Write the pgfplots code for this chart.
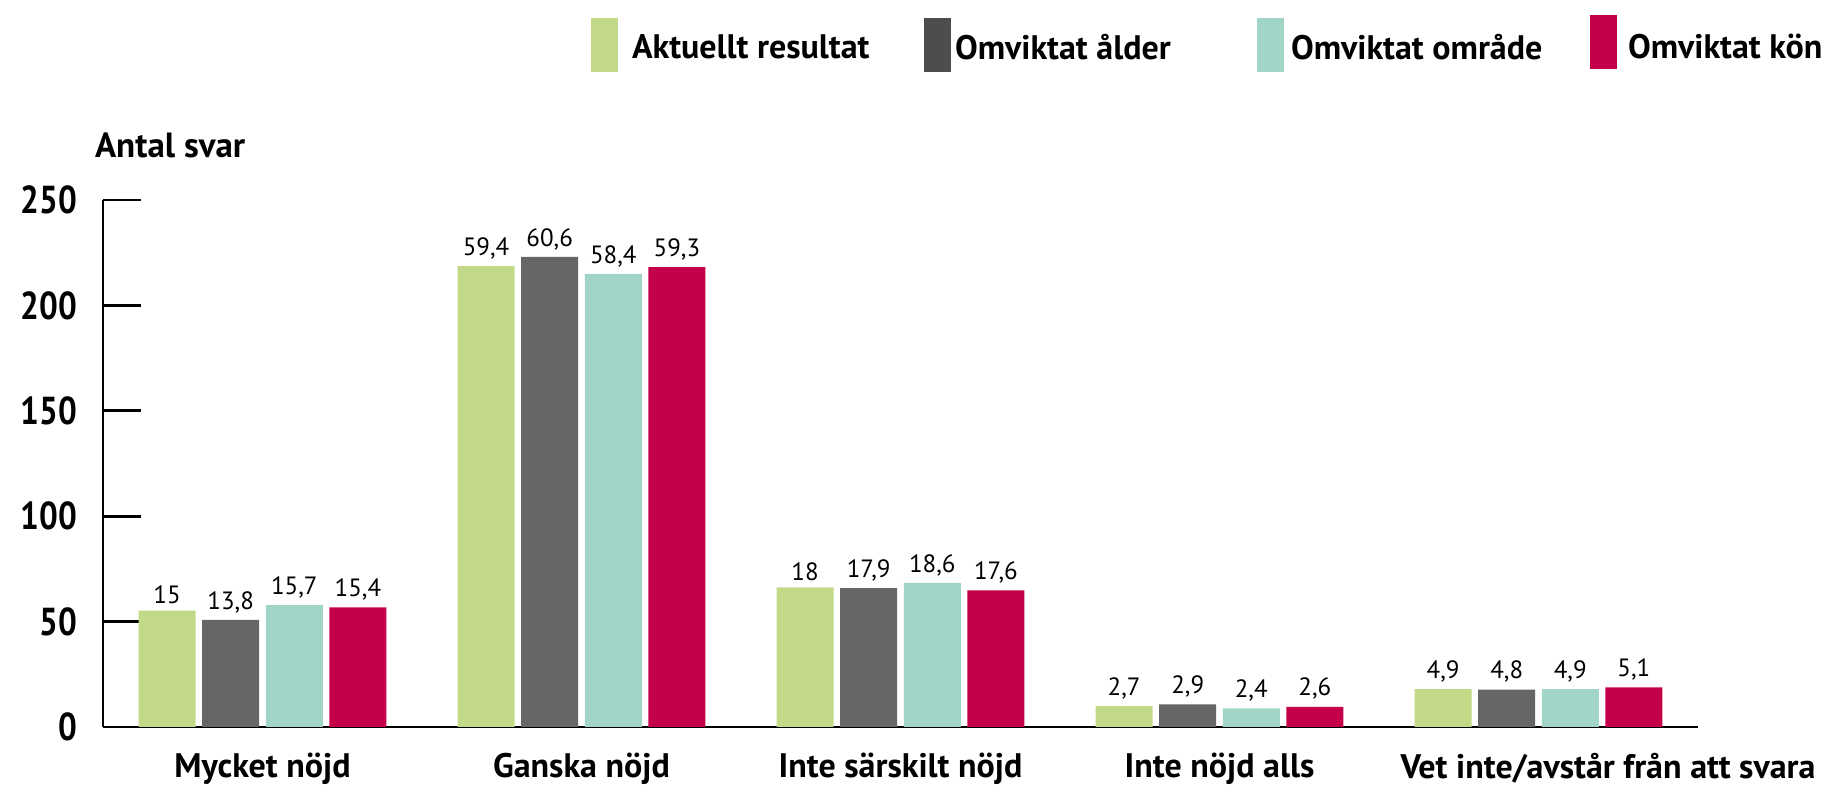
\documentclass[border=0pt]{standalone}
\usepackage{pgfplots}
\pgfplotsset{compat=1.18}
\usepackage{pgfplotstable}
\usepackage{fontspec}
\setmainfont{PT Sans}
\newfontfamily\narrowfont{PT Sans}[FakeStretch=0.85]
\definecolor{cgreen}{HTML}{C2DA88}
\definecolor{cdark}{HTML}{666666}
\definecolor{cdarkleg}{HTML}{4D4D4D}
\definecolor{cteal}{HTML}{A0D5C8}
\definecolor{cred}{HTML}{C4004A}
\pgfplotstableread{
x g gl d dl t tl r rl
0 55.2 15 50.8 13,8 57.8 15,7 56.7 15,4
1 218.6 59,4 223.0 60,6 214.9 58,4 218.2 59,3
2 66.2 18 65.9 17,9 68.4 18,6 64.8 17,6
3 9.9 2,7 10.7 2,9 8.8 2,4 9.6 2,6
4 18.0 4,9 17.7 4,8 18.0 4,9 18.8 5,1
}\data
\begin{document}
\begin{tikzpicture}
\begin{axis}[
  name=ax,
  scale only axis,
  width=797.5pt, height=263.5pt,
  xmin=-0.5, xmax=4.5, ymin=0, ymax=250,
  axis x line=bottom, axis y line=left,
  axis line style={-, line width=1.4pt},
  every tick/.style={black, line width=1.4pt},
  tick align=inside,
  major tick length=19pt,
  minor tick length=9pt,
  xtick={0,1,2,3,4},
  xticklabels={Mycket nöjd, Ganska nöjd, Inte särskilt nöjd, Inte nöjd alls, {\makebox[0pt][l]{\hspace{-69pt}Vet inte/avstår från att svara}}},
  minor xtick={0.5,1.5,2.5,3.5,4.5},
  xtick style={draw=none},
  x tick label style={font=\fontsize{17}{18}\selectfont\bfseries, yshift=9.5pt},
  ytick={0,50,100,150,200,250},
  y tick label style={font=\fontsize{19.5}{21}\selectfont\narrowfont\bfseries, xshift=-9.5pt},
  /pgf/number format/assume math mode=true,
  ybar=3.3pt, bar width=28.5pt,
  point meta=explicit symbolic,
  nodes near coords,
  every node near coord/.append style={font=\fontsize{12.5}{14}\selectfont, black},
  ylabel={Antal svar},
  every axis y label/.style={at={(rel axis cs:0,1)}, anchor=base west, xshift=-7.5pt, yshift=21pt, font=\fontsize{17.5}{19}\selectfont\bfseries},
  legend columns=4,
  legend style={at={(rel axis cs:0,1)}, anchor=north west, xshift=244pt, yshift=92.5pt,
    draw=none, fill=none, inner sep=0pt, outer sep=0pt, /tikz/column sep=0pt,
    font=\fontsize{17}{19}\selectfont\bfseries, nodes={inner sep=0pt, anchor=west}},
  clip=false,
]
\addplot[fill=cgreen, draw=none, legend image code/.code={\fill[cgreen] (0pt,-12pt) rectangle (13.5pt,15pt);}] table[x=x, y=g, meta=gl] {\data};
\addlegendentry{\makebox[153pt][l]{\hspace{7pt}Aktuellt resultat}}
\addplot[fill=cdark, draw=none, legend image code/.code={\fill[cdarkleg] (0pt,-12pt) rectangle (13.5pt,15pt);}] table[x=x, y=d, meta=dl] {\data};
\addlegendentry{\makebox[153pt][l]{\hspace{2pt}Omviktat ålder}}
\addplot[fill=cteal, draw=none, legend image code/.code={\fill[cteal] (0pt,-12pt) rectangle (13.5pt,15pt);}] table[x=x, y=t, meta=tl] {\data};
\addlegendentry{\makebox[153pt][l]{\hspace{3.5pt}Omviktat område}}
\addplot[fill=cred, draw=none, legend image code/.code={\fill[cred] (0pt,-10.5pt) rectangle (13.5pt,16.5pt);}] table[x=x, y=r, meta=rl] {\data};
\addlegendentry{\makebox[140pt][l]{\hspace{5.5pt}Omviktat kön}}
\end{axis}
\pgfresetboundingbox
\path[use as bounding box] ([shift={(-51.5pt,-29pt)}]ax.south west) rectangle ([shift={(866.5pt,363.5pt)}]ax.south west);
\end{tikzpicture}
\end{document}
